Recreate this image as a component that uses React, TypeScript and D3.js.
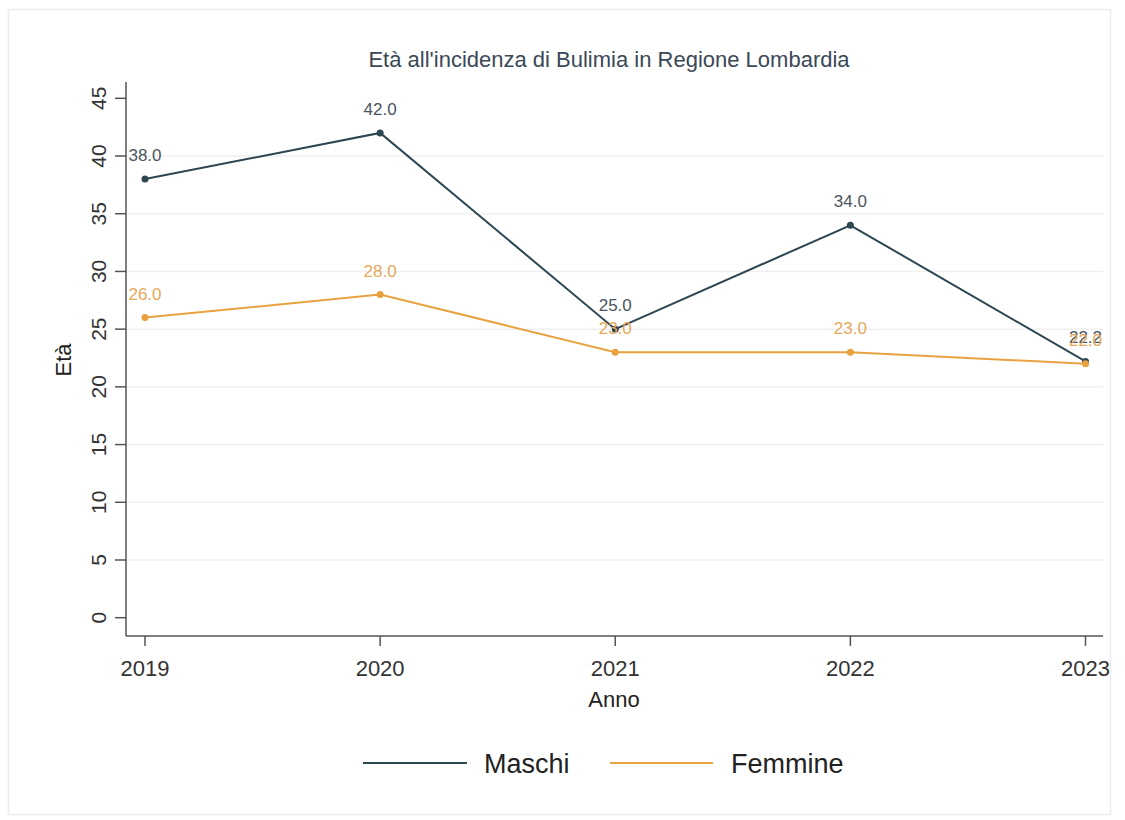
import React from "react";
import * as d3 from "d3";

const years = [2019, 2020, 2021, 2022, 2023];
const maschi = [38.0, 42.0, 25.0, 34.0, 22.2];
const femmine = [26.0, 28.0, 23.0, 23.0, 22.0];
const yTicks = [0, 5, 10, 15, 20, 25, 30, 35, 40, 45];
const gridTicks = [5, 10, 15, 20, 25, 30, 35, 40];
const title = "Età all'incidenza di Bulimia in Regione Lombardia";
const seriesNames = ["Maschi", "Femmine"];

const W = 1125;
const H = 820;
const COL_M = "#2e4552";
const COL_F = "#e8a23f";
const COL_M_LBL = "#4a5560";
const COL_F_LBL = "#e6a85a";
const FONT = "Arial, 'Liberation Sans', Helvetica, sans-serif";

export default function App() {
  const x = d3.scaleLinear().domain([2019, 2023]).range([145, 1085.5]);
  const y = d3.scaleLinear().domain([0, 45]).range([617.7, 98.3]);
  const axisLeft = 126;
  const axisBottom = 636;
  const plotRight = 1103;

  const line = d3
    .line<number>()
    .x((_, i) => x(years[i]))
    .y((d) => y(d));

  const series = [
    { name: seriesNames[0], vals: maschi, col: COL_M, lbl: COL_M_LBL },
    { name: seriesNames[1], vals: femmine, col: COL_F, lbl: COL_F_LBL },
  ];

  return (
    <svg
      width={W}
      height={H}
      style={{ position: "absolute", left: 0, top: 0, background: "#fff" }}
      fontFamily={FONT}
    >
      <rect x={8.5} y={9.5} width={1102} height={805} fill="#fff" stroke="#ececec" strokeWidth={1.5} />
      <text x={609} y={67} textAnchor="middle" fontSize={22} fill="#3a4858">
        {title}
      </text>

      {gridTicks.map((t) => (
        <line key={t} x1={axisLeft} x2={plotRight} y1={y(t)} y2={y(t)} stroke="#efefef" strokeWidth={1.5} />
      ))}

      {/* y axis */}
      <line x1={axisLeft} x2={axisLeft} y1={82} y2={axisBottom} stroke="#555" strokeWidth={1.5} />
      {yTicks.map((t) => (
        <g key={t}>
          <line x1={115} x2={axisLeft} y1={y(t)} y2={y(t)} stroke="#555" strokeWidth={1.5} />
          <text
            transform={`translate(106,${y(t)}) rotate(-90)`}
            textAnchor="middle"
            fontSize={21}
            fill="#333"
          >
            {t}
          </text>
        </g>
      ))}
      <text transform={`translate(71,360) rotate(-90)`} textAnchor="middle" fontSize={22} fill="#222">
        Età
      </text>

      {/* x axis */}
      <line x1={axisLeft} x2={plotRight} y1={axisBottom} y2={axisBottom} stroke="#555" strokeWidth={1.5} />
      {years.map((yr) => (
        <g key={yr}>
          <line x1={x(yr)} x2={x(yr)} y1={axisBottom} y2={646} stroke="#555" strokeWidth={1.5} />
          <text x={x(yr)} y={676} textAnchor="middle" fontSize={22} fill="#333">
            {yr}
          </text>
        </g>
      ))}
      <text x={614} y={707} textAnchor="middle" fontSize={22} fill="#222">
        Anno
      </text>

      {series.map((s) => (
        <g key={s.name}>
          <path d={line(s.vals) || ""} fill="none" stroke={s.col} strokeWidth={2} />
          {s.vals.map((v, i) => (
            <circle key={i} cx={x(years[i])} cy={y(v)} r={3.5} fill={s.col} />
          ))}
          {s.vals.map((v, i) => (
            <text key={"l" + i} x={x(years[i])} y={y(v) - 18} textAnchor="middle" fontSize={17} fill={s.lbl}>
              {v.toFixed(1)}
            </text>
          ))}
        </g>
      ))}

      {/* legend */}
      <line x1={363} x2={467} y1={763} y2={763} stroke={COL_M} strokeWidth={2} />
      <text x={484} y={773} fontSize={27} fill="#222">
        {seriesNames[0]}
      </text>
      <line x1={610} x2={713} y1={763} y2={763} stroke={COL_F} strokeWidth={2} />
      <text x={731} y={773} fontSize={27} fill="#222">
        {seriesNames[1]}
      </text>
    </svg>
  );
}
